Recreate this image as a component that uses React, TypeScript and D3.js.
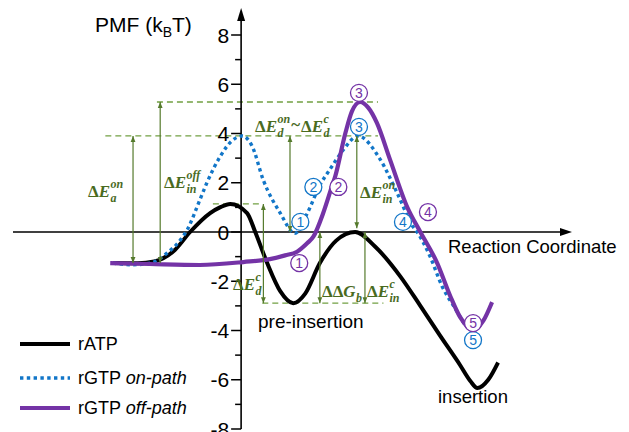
import React from "react";
import * as d3 from "d3";

// PMF profiles, [reaction coordinate, PMF in kBT]
const rATP: [number, number][] = [
  [-2.36, -1.26], [-1.9, -1.27], [-1.6, -1.2], [-1.22, -0.73], [-0.94, 0],
  [-0.57, 0.77], [-0.39, 1.0], [-0.2, 1.14], [0.11, 0.77], [0.26, 0],
  [0.48, -1.26], [0.72, -2.4], [0.96, -2.89], [1.18, -2.5], [1.45, -1.26],
  [1.75, -0.35], [2.1, 0], [2.47, -0.6], [2.93, -1.8], [3.3, -3.0],
  [3.66, -4.2], [4.03, -5.4], [4.22, -6.05], [4.35, -6.34], [4.55, -6.0], [4.73, -5.3],
];
const rGTPOn: [number, number][] = [
  [-2.36, -1.26], [-2.0, -1.33], [-1.68, -1.27], [-1.36, -0.85], [-1.12, -0.33],
  [-0.99, 0.1], [-0.76, 1.3], [-0.63, 2.0], [-0.39, 3.05], [-0.17, 3.7],
  [0.02, 3.9], [0.2, 3.5], [0.41, 2.1], [0.72, 0.77], [0.99, -0.05],
  [1.22, 0.77], [1.45, 1.9], [1.64, 2.56], [1.88, 3.33], [2.15, 3.9],
  [2.56, 2.95], [2.87, 1.6], [3.17, 0.2], [3.24, 0], [3.48, -1.0],
  [3.7, -2.2], [3.94, -3.1], [4.18, -3.9], [4.25, -4.0],
];
const rGTPOff: [number, number][] = [
  [-2.41, -1.26], [-1.68, -1.3], [-0.76, -1.34], [0.04, -1.22], [0.53, -1.1],
  [0.81, -0.95], [1.03, -0.8], [1.22, -0.45], [1.33, -0.19], [1.51, 0.76],
  [1.67, 1.84], [1.73, 2.24], [1.92, 4.02], [2.04, 4.9], [2.19, 5.28],
  [2.34, 5.05], [2.5, 4.43], [2.74, 2.95], [3.06, 1.0], [3.3, 0],
  [3.61, -1.26], [3.85, -2.6], [4.03, -3.45], [4.27, -3.98], [4.46, -3.6], [4.62, -2.85],
];

const yMajor = [-8, -6, -4, -2, 0, 2, 4, 6, 8];
const yMinor = [-7, -5, -3, -1, 1, 3, 5, 7];

// energy levels: [PMF, from, to]
const levels: [number, number, number][] = [
  [5.28, -1.55, 2.52],
  [3.9, -2.5, 2.52],
  [1.14, -0.52, 0.39],
  [-2.89, 0.39, 2.62],
];
// energy gaps: [reaction coordinate, from, to]
const gaps: [number, number, number][] = [
  [-1.99, -1.26, 3.9],
  [-1.49, -1.26, 5.28],
  [0.9, 3.9, 0],
  [0.41, 1.14, -2.89],
  [1.45, 0, -2.89],
  [2.28, 0, -2.89],
  [2.13, 3.9, 0.15],
];
// numbered states: [reaction coordinate, PMF, label]
const onStates: [number, number, string][] = [
  [1.09, 0.41, "1"], [1.33, 1.83, "2"], [2.17, 4.27, "3"], [2.98, 0.41, "4"], [4.27, -4.39, "5"],
];
const offStates: [number, number, string][] = [
  [1.07, -1.26, "1"], [1.79, 1.83, "2"], [2.17, 5.65, "3"], [3.44, 0.81, "4"], [4.27, -3.7, "5"],
];

const W = 629;
const H = 432;
const sans = '"Liberation Sans", Arial, sans-serif';
const serif = '"Liberation Serif", "DejaVu Serif", serif';
const BLUE = "#1276c8";
const PURPLE = "#7433a6";
const GREEN_TXT = "#4a6b1f";
const GREEN_LN = "#557a2c";
const GREEN_DASH = "#72a043";

const x = d3.scaleLinear().domain([-4.2, 6.0]).range([13, 567]);
const y = d3.scaleLinear().domain([-8, 8]).range([429, 35]);
const line = d3
  .line<[number, number]>()
  .x((d) => x(d[0]))
  .y((d) => y(d[1]))
  .curve(d3.curveMonotoneX);

const ctx = typeof document !== "undefined" ? document.createElement("canvas").getContext("2d") : null;
function tw(s: string, font: string) {
  if (!ctx) return s.length * 8;
  ctx.font = font;
  return ctx.measureText(s).width;
}

type Piece = { d: string; l: string; sup?: string; sub?: string } | { t: string };

function MathLabel({ x0, y0, parts }: { x0: number; y0: number; parts: Piece[] }) {
  let cx = x0;
  const out: React.ReactNode[] = [];
  const big = `bold 17px ${serif}`;
  const bigI = `italic bold 17px ${serif}`;
  const small = `italic bold 12px ${serif}`;
  parts.forEach((p, i) => {
    if ("t" in p) {
      out.push(
        <text key={i} x={cx} y={y0 - 2} fontSize={17} fontWeight="bold">{p.t}</text>
      );
      cx += tw(p.t, big) + 1;
      return;
    }
    const wd = tw(p.d, big);
    const wl = tw(p.l, bigI);
    out.push(<text key={i + "d"} x={cx} y={y0} fontSize={17} fontWeight="bold">{p.d}</text>);
    out.push(
      <text key={i + "l"} x={cx + wd} y={y0} fontSize={17} fontWeight="bold" fontStyle="italic">{p.l}</text>
    );
    const sx = cx + wd + wl + 0.5;
    if (p.sup)
      out.push(
        <text key={i + "u"} x={sx} y={y0 - 9} fontSize={12} fontWeight="bold" fontStyle="italic">{p.sup}</text>
      );
    if (p.sub)
      out.push(
        <text key={i + "b"} x={sx} y={y0 + 5} fontSize={12} fontWeight="bold" fontStyle="italic">{p.sub}</text>
      );
    cx = sx + Math.max(p.sup ? tw(p.sup, small) : 0, p.sub ? tw(p.sub, small) : 0) + 1;
  });
  return <g fill={GREEN_TXT} fontFamily={serif}>{out}</g>;
}

function Circled({ cx, cy, label, color }: { cx: number; cy: number; label: string; color: string }) {
  return (
    <g>
      <circle cx={cx} cy={cy} r={8.5} fill="white" stroke={color} strokeWidth={1.3} />
      <text x={cx} y={cy + 5} textAnchor="middle" fontSize={14} fill={color} fontFamily={sans}>{label}</text>
    </g>
  );
}

export default function App() {
  const x0 = x(0);
  return (
    <svg
      width={W}
      height={H}
      style={{ position: "absolute", left: 0, top: 0, display: "block", background: "white" }}
      fontFamily={sans}
    >
      <defs>
        <marker id="ah" viewBox="0 0 10 10" refX={10} refY={5} markerWidth={6} markerHeight={6}
          markerUnits="userSpaceOnUse" orient="auto-start-reverse">
          <path d="M0,1 L10,5 L0,9 z" fill={GREEN_LN} />
        </marker>
      </defs>

      {/* energy levels */}
      {levels.map(([v, a, b], i) => (
        <line key={i} x1={x(a)} x2={x(b)} y1={y(v)} y2={y(v)} stroke={GREEN_DASH}
          strokeWidth={1.3} strokeDasharray="6,4" />
      ))}

      {/* axes */}
      <line x1={x(-4.2)} x2={562} y1={y(0)} y2={y(0)} stroke="black" strokeWidth={1.6} />
      <path d={`M572,${y(0)} L560,${y(0) - 4} L560,${y(0) + 4} z`} fill="black" />
      <line x1={x0} x2={x0} y1={y(-8)} y2={18} stroke="black" strokeWidth={1.6} />
      <path d={`M${x0},8 L${x0 - 4},21 L${x0 + 4},21 z`} fill="black" />
      {yMajor.map((v) => (
        <g key={v}>
          <line x1={x0 - 10} x2={x0} y1={y(v)} y2={y(v)} stroke="black" strokeWidth={1.5} />
          <text x={x0 - 12} y={y(v) + 7.5} textAnchor="end" fontSize={21}>{v}</text>
        </g>
      ))}
      {yMinor.map((v) => (
        <line key={v} x1={x0 - 6} x2={x0} y1={y(v)} y2={y(v)} stroke="black" strokeWidth={1.5} />
      ))}
      <text x={95} y={32} fontSize={21}>
        PMF (k<tspan fontSize={14} dy={5}>B</tspan><tspan dy={-5}>T)</tspan>
      </text>
      <text x={448} y={253} fontSize={18.5}>Reaction Coordinate</text>

      {/* curves */}
      <path d={line(rATP) ?? ""} fill="none" stroke="black" strokeWidth={4} />
      <path d={line(rGTPOn) ?? ""} fill="none" stroke={BLUE} strokeWidth={3.4} strokeDasharray="3.4,3.4" />
      <path d={line(rGTPOff) ?? ""} fill="none" stroke={PURPLE} strokeWidth={4.2} />

      {/* gaps */}
      {gaps.map(([c, a, b], i) => (
        <line key={i} x1={x(c)} x2={x(c)} y1={y(a)} y2={y(b)} stroke={GREEN_LN} strokeWidth={1.2}
          markerStart="url(#ah)" markerEnd="url(#ah)" />
      ))}

      <MathLabel x0={88} y0={197} parts={[{ d: "Δ", l: "E", sup: "on", sub: "a" }]} />
      <MathLabel x0={164} y0={188} parts={[{ d: "Δ", l: "E", sup: "off", sub: "in" }]} />
      <MathLabel x0={255} y0={132} parts={[{ d: "Δ", l: "E", sup: "on", sub: "d" }, { t: "~" }, { d: "Δ", l: "E", sup: "c", sub: "d" }]} />
      <MathLabel x0={360} y0={198} parts={[{ d: "Δ", l: "E", sup: "on", sub: "in" }]} />
      <MathLabel x0={233} y0={290} parts={[{ d: "Δ", l: "E", sup: "c", sub: "d" }]} />
      <MathLabel x0={322} y0={297} parts={[{ d: "ΔΔ", l: "G", sub: "b" }]} />
      <MathLabel x0={367} y0={297} parts={[{ d: "Δ", l: "E", sup: "c", sub: "in" }]} />

      {/* numbered states */}
      {onStates.map(([c, v, l]) => (
        <Circled key={"on" + l} cx={x(c)} cy={y(v)} label={l} color={BLUE} />
      ))}
      {offStates.map(([c, v, l]) => (
        <Circled key={"off" + l} cx={x(c)} cy={y(v)} label={l} color={PURPLE} />
      ))}

      <text x={258} y={328} fontSize={19}>pre-insertion</text>
      <text x={438} y={403} fontSize={18.5}>insertion</text>

      {/* legend */}
      <line x1={20} x2={70} y1={344} y2={344} stroke="black" strokeWidth={4} />
      <text x={78} y={350} fontSize={18}>rATP</text>
      <line x1={20} x2={70} y1={378} y2={378} stroke={BLUE} strokeWidth={3.4} strokeDasharray="3.4,3.4" />
      <text x={78} y={384} fontSize={18}>rGTP <tspan fontStyle="italic">on-path</tspan></text>
      <line x1={20} x2={70} y1={408} y2={408} stroke={PURPLE} strokeWidth={4.2} />
      <text x={78} y={414} fontSize={18}>rGTP <tspan fontStyle="italic">off-path</tspan></text>
    </svg>
  );
}
